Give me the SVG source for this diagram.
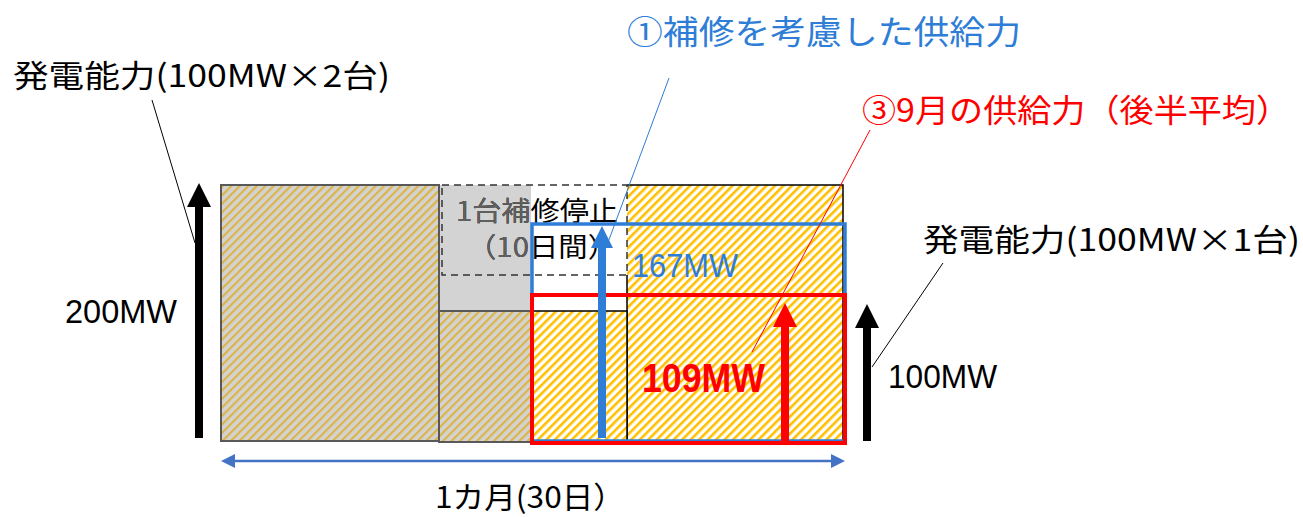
<svg xmlns="http://www.w3.org/2000/svg" width="1303" height="517" viewBox="0 0 1303 517">
<style>
.jp{font-family:"Noto Sans CJK JP","Noto Sans CJK SC",sans-serif;}
.num{font-family:"Liberation Sans",Arial,sans-serif;}
.lead{fill:none;stroke-width:1;}
</style>
<defs>
<pattern id="hGray" patternUnits="userSpaceOnUse" width="6" height="6" patternTransform="rotate(45)">
<rect width="6" height="6" fill="#d3d3d3"/>
<rect width="2.2" height="6" fill="#dcb447"/>
</pattern>
<pattern id="hYel" patternUnits="userSpaceOnUse" width="6" height="6" patternTransform="rotate(45)">
<rect width="6" height="6" fill="#ffffff"/>
<rect width="2.6" height="6" fill="#ffc000"/>
</pattern>
<marker id="mBlack" markerUnits="userSpaceOnUse" viewBox="0 0 24 24" markerWidth="24" markerHeight="24" refX="0" refY="12" orient="auto"><path d="M0,0 L24,12 L0,24 z" fill="#000"/></marker>
<marker id="mBlue" markerUnits="userSpaceOnUse" viewBox="0 0 24 24" markerWidth="22" markerHeight="22" refX="0" refY="12" orient="auto"><path d="M0,0 L24,12 L0,24 z" fill="#2e7dd6"/></marker>
<marker id="mRed" markerUnits="userSpaceOnUse" viewBox="0 0 24 24" markerWidth="24" markerHeight="24" refX="0" refY="12" orient="auto"><path d="M0,0 L24,12 L0,24 z" fill="#ff0000"/></marker>
<marker id="mAxis" markerUnits="userSpaceOnUse" viewBox="0 0 14 14" markerWidth="14" markerHeight="14" refX="2" refY="7" orient="auto-start-reverse"><path d="M0,0 L14,7 L0,14 z" fill="#4472c4"/></marker>
<clipPath id="grayClip"><rect x="440" y="185" width="91" height="126"/></clipPath>
</defs>

<g id="block-2units">
<rect x="221" y="185" width="218" height="256" fill="url(#hGray)" stroke="#595959" stroke-width="2"/>
</g>
<g id="block-maintenance-gray">
<rect x="440" y="185" width="91" height="126" fill="#d3d3d3"/>
<rect x="439" y="311" width="92" height="131" fill="url(#hGray)" stroke="#595959" stroke-width="2"/>
</g>
<g id="block-1unit-right">
<rect x="627" y="185" width="216" height="256" fill="url(#hYel)"/>
<path d="M627,275 V441 H843 V185 H627" fill="none" stroke="#000" stroke-width="1.5"/>
<rect x="531" y="311" width="96" height="130" fill="url(#hYel)" stroke="#000" stroke-width="1.5"/>
</g>
<g id="block-stop">
<rect x="442" y="185" width="185" height="90" fill="none" stroke="#333" stroke-width="1.5" stroke-dasharray="7 5"/>
<g class="jp" font-size="27" fill="#000">
<text x="456" y="221" textLength="162" lengthAdjust="spacingAndGlyphs">1台補修停止</text>
<text x="467" y="257" textLength="150" lengthAdjust="spacingAndGlyphs">（10日間）</text>
</g>
<g class="jp" font-size="27" fill="#5f5f5f" clip-path="url(#grayClip)">
<text x="456" y="221" textLength="162" lengthAdjust="spacingAndGlyphs">1台補修停止</text>
<text x="467" y="257" textLength="150" lengthAdjust="spacingAndGlyphs">（10日間）</text>
</g>
</g>
<g id="supply-167">
<rect x="532" y="224" width="313" height="217" fill="none" stroke="#2e7dd6" stroke-width="3.5"/>
<text class="num" x="632" y="277" font-size="34" fill="#2e7dd6" textLength="106" lengthAdjust="spacingAndGlyphs">167MW</text>
</g>
<g id="supply-109">
<rect x="532" y="295" width="313" height="148" fill="none" stroke="#ff0000" stroke-width="4"/>
<text class="num" x="642" y="392" font-size="40" font-weight="bold" fill="#ff0000" textLength="123" lengthAdjust="spacingAndGlyphs">109MW</text>
</g>

<g id="connectors">
<line x1="199" y1="438" x2="199" y2="207" stroke="#000" stroke-width="8" marker-end="url(#mBlack)"/>
<line x1="867" y1="441" x2="867" y2="328" stroke="#000" stroke-width="8" marker-end="url(#mBlack)"/>
<line x1="602" y1="438" x2="602" y2="248" stroke="#2e7dd6" stroke-width="8" marker-end="url(#mBlue)"/>
<line x1="785" y1="441" x2="785" y2="327" stroke="#ff0000" stroke-width="8" marker-end="url(#mRed)"/>
<line x1="233" y1="461" x2="833" y2="461" stroke="#4472c4" stroke-width="2.5" marker-start="url(#mAxis)" marker-end="url(#mAxis)"/>
<line class="lead" x1="152" y1="100" x2="195" y2="243" stroke="#000"/>
<line class="lead" x1="669" y1="78" x2="607" y2="245" stroke="#2e7dd6"/>
<line class="lead" x1="870" y1="130" x2="752" y2="352" stroke="#ff0000"/>
<line class="lead" x1="943" y1="263" x2="872" y2="367" stroke="#000"/>
</g>

<g id="labels">
<text class="jp" x="13" y="87" font-size="31" fill="#000" textLength="377" lengthAdjust="spacingAndGlyphs">発電能力(100MW×2台)</text>
<text class="jp" x="627" y="44" font-size="33" fill="#2e7dd6" textLength="394" lengthAdjust="spacingAndGlyphs">①補修を考慮した供給力</text>
<text class="jp" x="862" y="122" font-size="32" fill="#ff0000" textLength="428" lengthAdjust="spacingAndGlyphs">③9月の供給力（後半平均）</text>
<text class="jp" x="923" y="251" font-size="31" fill="#000" textLength="377" lengthAdjust="spacingAndGlyphs">発電能力(100MW×1台)</text>
<text class="num" x="65" y="323" font-size="33" fill="#000" textLength="112" lengthAdjust="spacingAndGlyphs">200MW</text>
<text class="num" x="888" y="388" font-size="33" fill="#000" textLength="109" lengthAdjust="spacingAndGlyphs">100MW</text>
<text class="jp" x="435" y="508" font-size="30" fill="#000" textLength="190" lengthAdjust="spacingAndGlyphs">1カ月(30日）</text>
</g>
</svg>
